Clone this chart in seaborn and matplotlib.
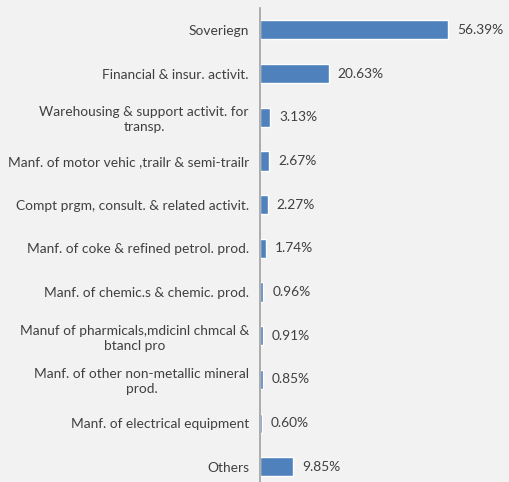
import matplotlib
matplotlib.use("Agg")
import matplotlib.pyplot as plt
import seaborn as sns
import pandas as pd
import numpy as np

categories = [
    "Soveriegn",
    "Financial & insur. activit.",
    "Warehousing & support activit. for\ntransp.",
    "Manf. of motor vehic ,trailr & semi-trailr",
    "Compt prgm, consult. & related activit.",
    "Manf. of coke & refined petrol. prod.",
    "Manf. of chemic.s & chemic. prod.",
    "Manuf of pharmicals,mdicinl chmcal &\nbtancl pro",
    "Manf. of other non-metallic mineral\nprod.",
    "Manf. of electrical equipment",
    "Others",
]
shares = [56.39, 20.63, 3.13, 2.67, 2.27, 1.74, 0.96, 0.91, 0.85, 0.60, 9.85]
value_labels = ["56.39%", "20.63%", "3.13%", "2.67%", "2.27%", "1.74%",
                "0.96%", "0.91%", "0.85%", "0.60%", "9.85%"]

sns.set_style("white")
plt.rcParams["font.family"] = ["Lato", "DejaVu Sans"]

bg = "#f2f2f2"
text_col = "#404040"
bar_col = "#4f81bd"
fs = 9.9

df = pd.DataFrame({"sector": categories, "share": shares})

W, H, DPI = 509, 482, 100
fig = plt.figure(figsize=(W / DPI, H / DPI), dpi=DPI, facecolor=bg)
ax_left = 260 / W
ax_top = (H - 8) / H
ax_h = 480.7 / H
ax = fig.add_axes([ax_left, ax_top - ax_h, 200 / W, ax_h])
ax.set_facecolor(bg)

sns.barplot(data=df, x="share", y="sector", orient="h", color=bar_col,
            width=0.44, saturation=1, ax=ax)

ax.set_xlim(0, 60)
ax.set_ylim(len(categories) - 0.5, -0.5)
ax.set_xlabel("")
ax.set_ylabel("")
ax.set_xticks([])

for s in ["top", "right", "bottom"]:
    ax.spines[s].set_visible(False)
ax.spines["left"].set_color("#a0a0a0")
ax.spines["left"].set_linewidth(1.2)

ax.set_yticks(range(len(categories)))
ax.set_yticklabels(categories, fontsize=fs, color=text_col,
                   ha="right", multialignment="center", linespacing=1.3)
ax.tick_params(axis="y", which="major", length=0, pad=8)
ax.set_yticks(np.arange(-0.5, len(categories), 1.0), minor=True)
ax.tick_params(axis="y", which="minor", length=4, width=1.0,
               color="#a0a0a0", direction="out")

for i, (v, lab) in enumerate(zip(shares, value_labels)):
    ax.annotate(lab, xy=(v, i), xytext=(6.5, 0), textcoords="offset points",
                ha="left", va="center", fontsize=fs, color=text_col,
                annotation_clip=False)

fig.savefig("out.png", dpi=DPI, facecolor=bg)
